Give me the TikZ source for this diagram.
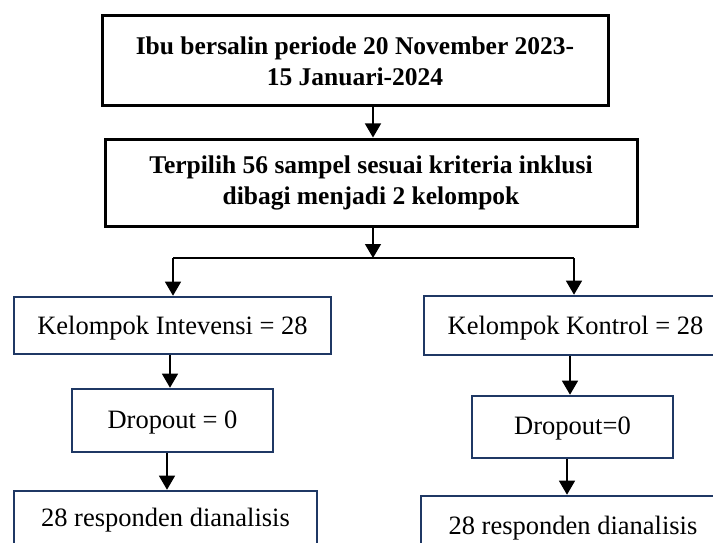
\documentclass[tikz,border=0pt]{standalone}
\usepackage{fontspec}
\setmainfont{Liberation Serif}
\usetikzlibrary{arrows.meta}
\definecolor{navy}{RGB}{31,56,100}
\newcommand\mylower[2]{\raisebox{#1}[\height][\depth]{#2}}
\begin{document}
\begin{tikzpicture}[x=1pt,y=-1pt,
  topbox/.style={draw=black,line width=3pt,rectangle,inner sep=0pt,align=center,
    font=\fontsize{25.5}{31}\selectfont\bfseries},
  subbox/.style={draw=navy,line width=2.6pt,rectangle,inner sep=0pt,align=center,
    font=\fontsize{26.5}{31}\selectfont},
  arr/.style={line width=1.3pt,-{Triangle[length=14pt,width=16pt]}},
  ln/.style={line width=1.3pt}]
\useasboundingbox (0,0) rectangle (713,543);
\clip (0,0) rectangle (713,543);
\fill[white] (0,0) rectangle (713,543);
% boxes
\node[topbox,minimum width=506pt,minimum height=90pt] (top) at (355,61)
  {Ibu bersalin periode 20 November 2023-\\15 Januari-2024};
\node[topbox,minimum width=532pt,minimum height=87pt] (sel) at (371,182.5)
  {Terpilih 56 sampel sesuai kriteria inklusi\\dibagi menjadi 2 kelompok};
\node[subbox,minimum width=317pt,minimum height=57pt] (int) at (172.5,325.5)
  {\mylower{-3pt}{Kelompok Intevensi = 28}};
\node[subbox,minimum width=201pt,minimum height=63pt] (dint) at (172.5,420.5)
  {\mylower{-2pt}{Dropout = 0}};
\node[subbox,minimum width=303pt,minimum height=64pt] (rint) at (165.5,523)
  {\mylower{3pt}{28 responden dianalisis}};
\node[subbox,minimum width=303pt,minimum height=59pt] (kon) at (575.5,325.5)
  {\mylower{-3pt}{Kelompok Kontrol = 28}};
\node[subbox,minimum width=201pt,minimum height=62pt] (dkon) at (572.5,427)
  {\mylower{-2pt}{Dropout=0}};
\node[subbox,minimum width=304pt,minimum height=64pt] (rkon) at (573,528)
  {28 responden dianalisis};
% connector x positions
\coordinate (xa) at (373,0);
\coordinate (xl) at (173,0);
\coordinate (xr) at (574,0);
\coordinate (xl2) at (170,0);
\coordinate (xl3) at (167,0);
\coordinate (xr2) at (570,0);
\coordinate (xr3) at (567,0);
\coordinate (jn) at (373,258);
\coordinate (jl) at (173,258);
\coordinate (jr) at (574,258);
% connectors
\draw[arr] (top.south -| xa) -- (sel.north -| xa);
\draw[arr] (sel.south -| xa) -- (jn);
\draw[ln] (jl) -- (jr);
\draw[arr] (jl) -- (int.north -| xl);
\draw[arr] (jr) -- (kon.north -| xr);
\draw[arr] (int.south -| xl2) -- (dint.north -| xl2);
\draw[arr] (dint.south -| xl3) -- (rint.north -| xl3);
\draw[arr] (kon.south -| xr2) -- (dkon.north -| xr2);
\draw[arr] (dkon.south -| xr3) -- (rkon.north -| xr3);
\end{tikzpicture}
\end{document}
